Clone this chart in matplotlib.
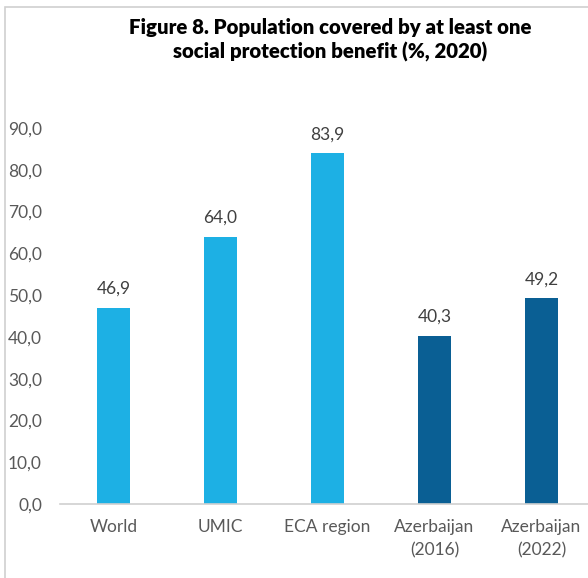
import matplotlib.pyplot as plt
from matplotlib.patches import Rectangle

plt.rcParams['font.family'] = ['Lato', 'DejaVu Sans']

categories = ['World', 'UMIC', 'ECA region', 'Azerbaijan\n(2016)', 'Azerbaijan\n(2022)']
coverage = [46.9, 64.0, 83.9, 40.3, 49.2]
bar_colors = ['#1DB0E4', '#1DB0E4', '#1DB0E4', '#0A5F94', '#0A5F94']
y_ticks = [0, 10, 20, 30, 40, 50, 60, 70, 80, 90]

fig = plt.figure(figsize=(5.88, 5.78), dpi=100)

# chart frame, cut off on the right and bottom
fig.patches.append(Rectangle((5 / 588, -0.05), 1.1, 1 - 7 / 578 + 0.05,
                             transform=fig.transFigure, fill=False,
                             edgecolor='#D0D0D0', linewidth=1.2))

ax = fig.add_axes([60 / 588, 74 / 578, 535 / 588, 376 / 578])
x = range(len(categories))
bars = ax.bar(x, coverage, width=0.31, color=bar_colors)

for xi, v in zip(x, coverage):
    ax.annotate(f'{v:.1f}'.replace('.', ','), (xi, v), xytext=(0, 8),
                textcoords='offset points', ha='center', va='bottom',
                fontsize=12.5, color='#404040')

ax.set_xlim(-0.5, 4.5)
ax.set_ylim(0, 90)
ax.set_yticks(y_ticks)
ax.set_yticklabels([f'{t:.1f}'.replace('.', ',') for t in y_ticks])
ax.set_xticks(list(x))
ax.set_xticklabels(categories, linespacing=1.55)
ax.tick_params(axis='both', length=0, labelsize=12.5, labelcolor='#595959')
ax.tick_params(axis='y', pad=13)
ax.tick_params(axis='x', pad=11)
for s in ['top', 'right', 'left']:
    ax.spines[s].set_visible(False)
ax.spines['bottom'].set_color('#D0D0D0')
ax.spines['bottom'].set_linewidth(1.2)

fig.text(330 / 588, 1 - 40 / 578,
         'Figure 8. Population covered by at least one\nsocial protection benefit (%, 2020)',
         ha='center', va='center', fontsize=14.7, fontweight='heavy',
         color='black', linespacing=1.25)

fig.savefig('out.png', dpi=100)
